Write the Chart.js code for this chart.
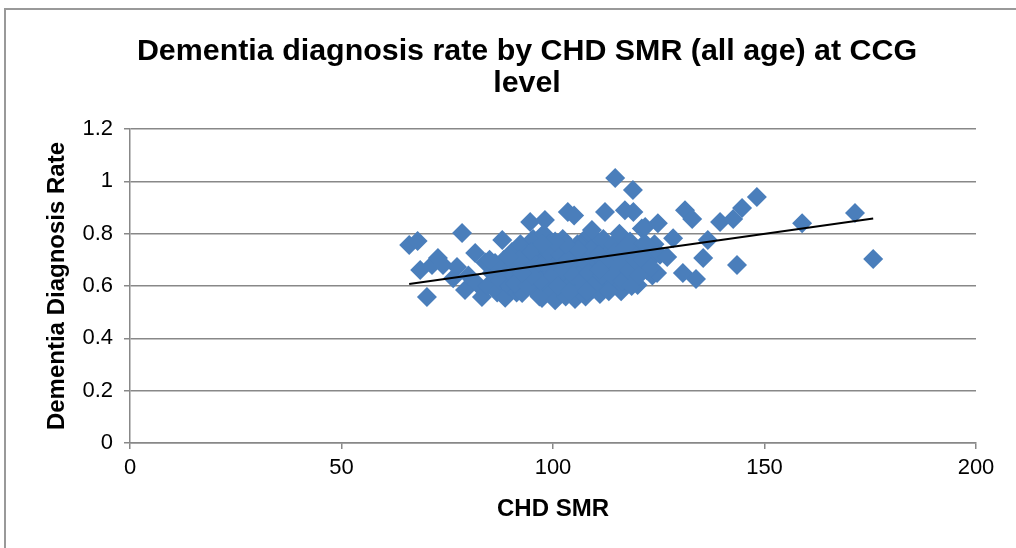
<!DOCTYPE html>
<html>
<head>
<meta charset="utf-8">
<script src="https://cdn.jsdelivr.net/npm/chart.js@4/dist/chart.umd.min.js"></script>
<style>
  body { margin: 0; background: #fff; }
  #wrap { position: relative; width: 1016px; height: 548px; overflow: hidden; }
  #frame { position: absolute; left: 4px; top: 8px; width: 1100px; height: 700px; border-left: 2px solid #999; border-top: 2px solid #999; }
  canvas { position: absolute; left: 0; top: 0; }
</style>
</head>
<body>
<div id="wrap">
  <div id="frame"></div>
  <canvas id="scatterChart" width="1016" height="548"></canvas>
</div>
<script>
// CHD SMR (x) and dementia diagnosis rate (y), one entry per CCG
const smr = [
  66.0, 68.0, 68.6, 70.2, 71.4, 72.8, 74.0, 76.4, 77.3, 78.5, 79.2, 80.0, 81.6, 82.0, 83.2, 84.0, 84.5, 85.5,
  86.3, 86.8, 87.5, 88.0, 88.4, 88.7, 89.2, 89.8, 90.3, 90.8, 91.4, 91.8, 92.3, 92.7, 93.1, 93.6, 94.0, 94.6,
  94.9, 95.3, 95.6, 96.0, 96.4, 96.8, 97.2, 97.4, 97.8, 98.1, 98.4, 98.8, 99.2, 99.5, 99.9, 100.3, 100.5, 100.8,
  101.2, 101.6, 102.0, 102.3, 102.7, 103.0, 103.3, 103.5, 103.9, 104.2, 104.6, 105.0, 105.2, 105.5, 105.9, 106.3,
  106.6, 107.0, 107.3, 107.7, 108.1, 108.5, 108.9, 109.2, 109.5, 109.9, 110.3, 110.7, 111.1, 111.5, 111.9, 112.3,
  112.6, 113.0, 113.4, 113.8, 114.2, 114.7, 115.0, 115.3, 115.7, 116.1, 116.5, 116.9, 117.0, 117.4, 117.8, 118.2,
  118.9, 119.0, 119.3, 119.7, 120.0, 120.5, 121.0, 121.4, 121.8, 122.2, 122.6, 123.0, 123.5, 124.0, 124.6, 124.8,
  125.3, 127.0, 128.4, 130.7, 131.2, 132.9, 133.8, 135.5, 136.6, 139.5, 142.6, 143.5, 144.7, 148.2, 158.9, 171.4,
  175.7,
  90.0, 91.0, 92.0, 93.0, 94.0, 95.0, 96.0, 97.0, 98.0, 99.0, 100.0, 101.0, 101.8, 102.5, 103.5, 104.0, 104.8,
  105.8, 106.8, 107.5, 108.3, 109.0, 110.0, 110.8, 111.6, 112.4, 113.2, 114.0, 114.8, 115.6, 116.4, 117.2, 118.0,
  118.6, 119.5, 120.3, 121.2, 122.0, 123.2, 108.0, 106.0, 103.0, 100.5, 97.5, 95.0, 92.5, 89.5, 87.0, 85.0, 111.0
];
const diagnosisRate = [
  0.757, 0.772, 0.661, 0.558, 0.680, 0.707, 0.680, 0.630, 0.673, 0.803, 0.585, 0.640, 0.726, 0.610, 0.558, 0.690, 0.600, 0.650,
  0.688, 0.575, 0.620, 0.776, 0.700, 0.555, 0.660, 0.600, 0.730, 0.640, 0.575, 0.690, 0.760, 0.573, 0.620, 0.720, 0.660, 0.845,
  0.595, 0.780, 0.700, 0.630, 0.740, 0.560, 0.670, 0.554, 0.800, 0.852, 0.720, 0.600, 0.760, 0.650, 0.580, 0.700, 0.546, 0.620,
  0.740, 0.670, 0.590, 0.780, 0.700, 0.560, 0.640, 0.883, 0.750, 0.610, 0.680, 0.870, 0.550, 0.730, 0.640, 0.580,
  0.700, 0.770, 0.660, 0.560, 0.620, 0.720, 0.800, 0.814, 0.590, 0.680, 0.750, 0.630, 0.570, 0.700, 0.780, 0.883,
  0.650, 0.600, 0.730, 0.670, 0.760, 1.013, 0.620, 0.700, 0.800, 0.580, 0.660, 0.740, 0.890, 0.620, 0.700, 0.770,
  0.967, 0.883, 0.650, 0.730, 0.604, 0.690, 0.820, 0.760, 0.826, 0.660, 0.720, 0.700, 0.640, 0.760, 0.650, 0.840,
  0.720, 0.711, 0.783, 0.650, 0.890, 0.856, 0.627, 0.707, 0.776, 0.845, 0.856, 0.680, 0.898, 0.940, 0.840, 0.879,
  0.703,
  0.670, 0.610, 0.700, 0.650, 0.600, 0.730, 0.680, 0.620, 0.690, 0.730, 0.640, 0.600, 0.720, 0.660, 0.700, 0.580, 0.640,
  0.760, 0.620, 0.690, 0.650, 0.740, 0.610, 0.720, 0.640, 0.690, 0.580, 0.640, 0.730, 0.680, 0.620, 0.750, 0.660,
  0.600, 0.700, 0.640, 0.700, 0.760, 0.670, 0.580, 0.740, 0.760, 0.770, 0.760, 0.640, 0.650, 0.710, 0.670, 0.700, 0.660
];
// linear trend line as drawn in the original (ends at the data's min and max SMR)
const trendSmr = [66, 175.7];
const trendRate = [0.608, 0.858];
const xTicks = [0, 50, 100, 150, 200];
const yTicks = [0, 0.2, 0.4, 0.6, 0.8, 1, 1.2];

const points = smr.map((x, i) => ({ x: x, y: diagnosisRate[i] }));
const trend = trendSmr.map((x, i) => ({ x: x, y: trendRate[i] }));

const font = 'Liberation Sans, Arial, sans-serif';
const gridGrey = '#888888';

const ctx = document.getElementById('scatterChart').getContext('2d');
new Chart(ctx, {
    type: 'scatter',
    data: {
        datasets: [{
            type: 'line',
            data: trend,
            borderColor: '#000',
            borderWidth: 2,
            pointRadius: 0,
            fill: false
        }, {
            data: points,
            pointStyle: 'rectRot',
            pointRadius: 10,
            backgroundColor: '#4A7EBB',
            borderColor: '#4A7EBB',
            borderWidth: 0
        }]
    },
    options: {
        responsive: false,
        animation: false,
        // extra left padding pulls the title's centre to the right like the original
        layout: { padding: { left: 78, right: 40, top: 0, bottom: 0 } },
        plugins: {
            legend: { display: false },
            tooltip: { enabled: false },
            title: {
                display: true,
                text: ['Dementia diagnosis rate by CHD SMR (all age) at CCG', 'level'],
                color: '#000',
                font: { family: font, size: 30.4, weight: 'bold', lineHeight: 1.07 },
                padding: { top: 35, bottom: 29 }
            }
        },
        scales: {
            x: {
                type: 'linear',
                min: 0,
                max: 200,
                afterBuildTicks: s => { s.ticks = xTicks.map(v => ({ value: v })); },
                afterFit: s => { s.height = 105; },
                ticks: { color: '#000', font: { family: font, size: 22 }, padding: 6 },
                grid: { drawOnChartArea: false, drawTicks: true, tickLength: 6, color: gridGrey, lineWidth: 1.5 },
                border: { color: gridGrey, width: 1.5 },
                title: {
                    display: true,
                    text: 'CHD SMR',
                    color: '#000',
                    font: { family: font, size: 24, weight: 'bold' },
                    padding: { top: 0, bottom: 24 }
                }
            },
            y: {
                min: 0,
                max: 1.2,
                afterBuildTicks: s => { s.ticks = yTicks.map(v => ({ value: v })); },
                afterFit: s => { s.width = 52; },
                ticks: {
                    color: '#000',
                    font: { family: font, size: 22 },
                    padding: 11,
                    callback: v => String(v)
                },
                grid: { color: gridGrey, lineWidth: 1.5, tickLength: 6 },
                border: { color: gridGrey, width: 1.5 },
                title: {
                    display: true,
                    text: 'Dementia Diagnosis Rate',
                    color: '#000',
                    font: { family: font, size: 24, weight: 'bold' },
                    padding: { top: -35, bottom: 0 }
                }
            }
        }
    }
});
</script>
</body>
</html>
